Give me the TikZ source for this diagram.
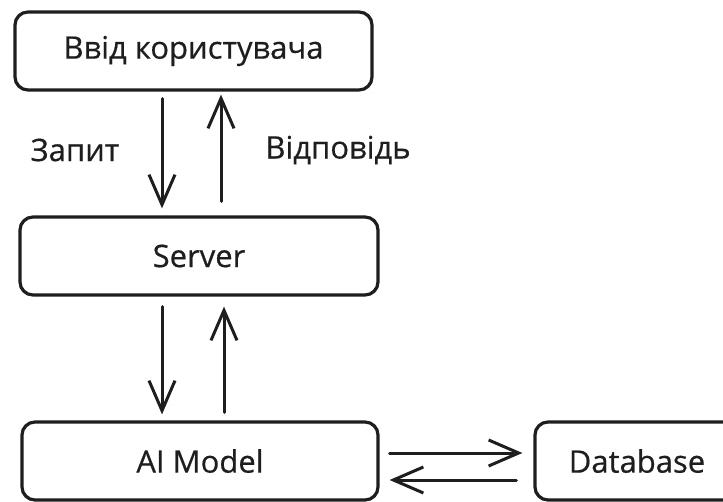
\documentclass[tikz,border=0pt]{standalone}
\usepackage{fontspec}
\setmainfont{Open Sans}[BoldFont={Open Sans}, BoldFeatures={FakeBold=0.5}]
\usetikzlibrary{arrows.meta}
\definecolor{ink}{HTML}{1E1E1E}
\begin{document}
\begin{tikzpicture}[x=1pt,y=-1pt,
  box/.style={draw=ink, line width=3.2pt, rounded corners=13pt, text=ink,
    font=\fontsize{31}{35}\selectfont\bfseries, inner sep=0pt},
  lbl/.style={text=ink, font=\fontsize{31}{35}\selectfont\bfseries, inner sep=0pt},
  arr/.style={draw=ink, line width=3pt, line cap=round,
    -{Straight Barb[length=30pt,width=26pt,line width=3pt]}}]
  \useasboundingbox[fill=white] (0,0) rectangle (723,502);

  % the four blocks
  \node[box, minimum width=357pt, minimum height=78pt] (input)  at (193.5,51) {Ввід користувача};
  \node[box, minimum width=358pt, minimum height=78pt] (server) at (199,256) {Server};
  \node[box, minimum width=356pt, minimum height=78pt] (model)  at (200,461) {AI Model};
  \node[box, minimum width=204pt, minimum height=78pt] (db)     at (637,461) {Database};

  % request / response between input and server
  \draw[arr] ([xshift=-31.5pt,yshift=-7pt]input.south) -- ([xshift=-37pt,yshift=7pt]server.north);
  \draw[arr] ([xshift=22pt,yshift=14pt]server.north) -- ([xshift=27.5pt,yshift=-3pt]input.south);
  \node[lbl] (req)  at (75,150)  {Запит};
  \node[lbl] (resp) at (338,150) {Відповідь};

  % server <-> model
  \draw[arr] ([xshift=-37pt,yshift=-10pt]server.south) -- ([xshift=-38pt,yshift=6pt]model.north);
  \draw[arr] ([xshift=24pt,yshift=8pt]model.north) -- ([xshift=25pt,yshift=-10pt]server.south);

  % model <-> database
  \draw[arr] ([xshift=10pt,yshift=8pt]model.east) -- ([xshift=-11pt,yshift=8pt]db.west);
  \draw[arr] ([xshift=-17pt,yshift=-19pt]db.west) -- ([xshift=10pt,yshift=-19pt]model.east);
\end{tikzpicture}
\end{document}
